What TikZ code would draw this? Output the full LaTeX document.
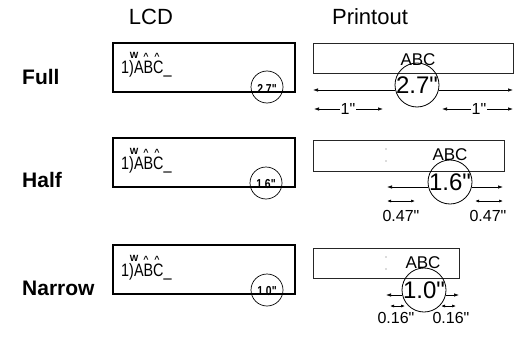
\documentclass[tikz,border=0pt]{standalone}
\usepackage{fontspec}
\setmainfont{Liberation Sans}[Ligatures=TeXOff]
\usepackage{graphicx}
\usetikzlibrary{arrows.meta,positioning}
\tikzset{
  head/.style={font=\fontsize{22}{22}\selectfont},
  rowlabel/.style={anchor=west, inner sep=0pt, font=\fontsize{21}{21}\selectfont\bfseries},
  lcdbox/.style={draw, line width=1.6pt, minimum width=182pt, minimum height=49pt, inner sep=0pt},
  tape/.style={draw=black!85, line width=0.9pt, minimum height=30pt, inner sep=0pt},
  lcdtext/.style={anchor=base west, inner sep=0pt, font=\fontsize{18}{18}\selectfont},
  lcdsym/.style={anchor=base, inner sep=0pt, font=\fontsize{9}{9}\selectfont\bfseries},
  lcdlen/.style={circle, draw, line width=0.7pt, minimum size=32pt, inner sep=0pt},
  lcdnum/.style={inner sep=0pt, yshift=-1.5pt, font=\fontsize{13}{13}\selectfont\bfseries},
  prlen/.style={circle, draw, line width=0.8pt, minimum size=44pt, inner sep=0pt},
  prnum/.style={inner sep=0pt, font=\fontsize{24}{24}\selectfont},
  prtext/.style={inner sep=0pt, font=\fontsize{17}{17}\selectfont},
  dimtext/.style={inner sep=1pt, font=\fontsize{16}{16}\selectfont},
  dim/.style={line width=0.7pt, -{Latex[length=5pt,width=3.5pt]}},
  dimboth/.style={line width=0.7pt, {Latex[length=4pt,width=3pt]}-{Latex[length=4pt,width=3pt]}},
}
\newcommand{\lcdstr}{\scalebox{0.8}[1]{1)ABC\_}}
\newcommand{\lcdlabel}[1]{\scalebox{0.8}[1]{#1}}
\begin{document}
\begin{tikzpicture}[x=1pt,y=-1pt]
  \useasboundingbox (0,0) rectangle (518,350);

  % column heads
  \node[head] (lcdhead) at (151,17) {LCD};
  \node[head] (prhead) at (370,17) {Printout};

  % row labels
  \node[rowlabel] (full) at (22,77) {Full};
  \node[rowlabel] (half) at (22,180) {Half};
  \node[rowlabel] (narrow) at (22,288) {Narrow};

  % LCD screens
  \node[lcdbox] (lcdfull) at (204,67.5) {};
  \node[lcdbox] (lcdhalf) at (204,162.5) {};
  \node[lcdbox] (lcdnarrow) at (204,269.5) {};

  \node[lcdtext] (txtfull) at (121,74) {\lcdstr};
  \node[lcdsym] (wfull) at (134,59) {W};
  \node[lcdsym] (afull) at (146,60) {\textasciicircum};
  \node[lcdsym] (bfull) at (157,60) {\textasciicircum};
  \node[lcdlen] (lfull) at (267,87) {};
  \node[lcdnum] at (lfull) {\lcdlabel{2.7"}};

  \node[lcdtext] (txthalf) at (121,169) {\lcdstr};
  \node[lcdsym] (whalf) at (134,154) {W};
  \node[lcdsym] (ahalf) at (146,155) {\textasciicircum};
  \node[lcdsym] (bhalf) at (157,155) {\textasciicircum};
  \node[lcdlen] (lhalf) at (266,183) {};
  \node[lcdnum] at (lhalf) {\lcdlabel{1.6"}};

  \node[lcdtext] (txtnarrow) at (121,276) {\lcdstr};
  \node[lcdsym] (wnarrow) at (134,261) {W};
  \node[lcdsym] (anarrow) at (146,262) {\textasciicircum};
  \node[lcdsym] (bnarrow) at (157,262) {\textasciicircum};
  \node[lcdlen] (lnarrow) at (267,290) {};
  \node[lcdnum] at (lnarrow) {\lcdlabel{1.0"}};

  % printouts
  \node[tape, minimum width=200pt] (tapefull) at (413,58) {};
  \node[prtext] (abcfull) at (418,60) {ABC};
  \node[prlen] (cfull) at (417,85) {};
  \node[prnum] at (cfull) {2.7"};
  \coordinate (fl) at (313,90);
  \coordinate (fr) at (513,90);
  \draw[dim] (fl -| cfull.west) -- (fl);
  \draw[dim] (fr -| cfull.east) -- (fr);
  \node[dimtext] (onel) at (348,109) {1"};
  \node[dimtext] (oner) at (479,109) {1"};
  \coordinate (ol1) at (314,109);
  \coordinate (ol2) at (383,109);
  \coordinate (or1) at (442,109);
  \coordinate (or2) at (513,109);
  \draw[dim] (onel) -- (ol1);
  \draw[dim] (onel) -- (ol2);
  \draw[dim] (oner) -- (or1);
  \draw[dim] (oner) -- (or2);

  \node[tape, minimum width=191pt, minimum height=31pt] (tapehalf) at (408.5,155.5) {};
  \fill[black!60] (386,149) circle (0.7) (386,161) circle (0.7);
  \node[prtext] (abchalf) at (450,155) {ABC};
  \node[prlen] (chalf) at (450,182) {};
  \node[prnum] at (chalf) {1.6"};
  \coordinate (hl) at (387,187);
  \coordinate (hr) at (503,187);
  \draw[dim] (hl -| chalf.west) -- (hl);
  \draw[dim] (hr -| chalf.east) -- (hr);
  \coordinate (hl1) at (387,201);
  \coordinate (hl2) at (415,201);
  \coordinate (hr1) at (475,201);
  \coordinate (hr2) at (503,201);
  \draw[dimboth] (hl1) -- (hl2);
  \draw[dimboth] (hr1) -- (hr2);
  \node[dimtext] (hlen1) at (401,216) {0.47"};
  \node[dimtext] (hlen2) at (488,216) {0.47"};

  \node[tape, minimum width=146pt] (tapenarrow) at (386,263) {};
  \fill[black!60] (386,257) circle (0.7) (386,269) circle (0.7);
  \node[prtext] (abcnarrow) at (423,263) {ABC};
  \node[prlen] (cnarrow) at (424,290) {};
  \node[prnum] at (cnarrow) {1.0"};
  \coordinate (nl) at (386,295);
  \coordinate (nr) at (459,295);
  \draw[dim] (nl -| cnarrow.west) -- (nl);
  \draw[dim] (nr -| cnarrow.east) -- (nr);
  \coordinate (nl1) at (390,306);
  \coordinate (nl2) at (405,306);
  \coordinate (nr1) at (441,306);
  \coordinate (nr2) at (456,306);
  \draw[dimboth] (nl1) -- (nl2);
  \draw[dimboth] (nr1) -- (nr2);
  \node[dimtext] (nlen1) at (396,318) {0.16"};
  \node[dimtext] (nlen2) at (451,318) {0.16"};
\end{tikzpicture}
\end{document}
